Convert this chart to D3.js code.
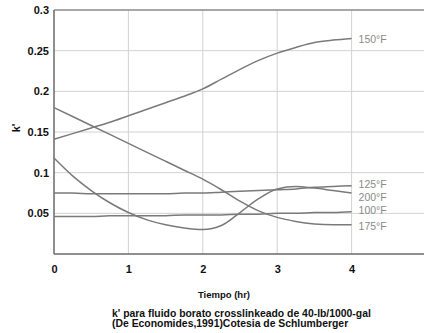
<!DOCTYPE html>
<html>
<head>
<meta charset="utf-8">
<script src="https://cdn.jsdelivr.net/npm/d3@7"></script>
<style>
  body { margin: 0; background: #fff; }
  text { font-family: "Liberation Sans", Arial, sans-serif; }
</style>
</head>
<body>
<div id="chart"></div>
<script>

// tiempo (hr) y k'
let hours = [0, 0.25, 0.5, 0.75, 1, 1.25, 1.5, 1.75, 2, 2.25, 2.5, 2.75, 3, 3.25, 3.5, 3.75, 4]

let k_150 = [0.141, 0.148, 0.155, 0.162, 0.170, 0.178, 0.186, 0.194, 0.203, 0.215, 0.227, 0.238, 0.247, 0.254, 0.260, 0.263, 0.265]
let k_175 = [0.180, 0.169, 0.158, 0.147, 0.136, 0.125, 0.114, 0.103, 0.092, 0.079, 0.065, 0.053, 0.045, 0.040, 0.037, 0.036, 0.036]
let k_200 = [0.118, 0.096, 0.078, 0.063, 0.051, 0.042, 0.036, 0.032, 0.030, 0.035, 0.051, 0.068, 0.080, 0.083, 0.081, 0.078, 0.075]
let k_125 = [0.075, 0.075, 0.074, 0.074, 0.074, 0.074, 0.074, 0.075, 0.075, 0.076, 0.077, 0.078, 0.079, 0.080, 0.082, 0.083, 0.084]
let k_100 = [0.046, 0.046, 0.046, 0.047, 0.047, 0.047, 0.047, 0.048, 0.048, 0.048, 0.049, 0.049, 0.050, 0.050, 0.051, 0.051, 0.052]

let series_names = ['150°F', '125°F', '200°F', '100°F', '175°F']
let series_values = [k_150, k_125, k_200, k_100, k_175]
// donde se ponen las etiquetas (valor k')
let label_k = [0.264, 0.0855, 0.0695, 0.054, 0.0345]

let x_ticks = [0, 1, 2, 3, 4]
let y_ticks = [0.05, 0.1, 0.15, 0.2, 0.25, 0.3]
let caption_lines = ["k' para fluido borato crosslinkeado de 40-lb/1000-gal", "(De Economides,1991)Cotesia de Schlumberger"]

let width = 424, height = 333

let svg = d3.select('#chart').append('svg')
  .attr('width', width)
  .attr('height', height)

let x = d3.scaleLinear().domain([0, 5]).range([54, 426])
let y = d3.scaleLinear().domain([0, 0.3]).range([254, 10])

// rejilla
svg.append('g')
  .selectAll('line')
  .data([1, 2, 3, 4, 5])
  .join('line')
  .attr('x1', d => x(d)).attr('x2', d => x(d))
  .attr('y1', y(0)).attr('y2', y(0.3))
  .style('stroke', '#d2d2d2').style('stroke-width', 1)

svg.append('g')
  .selectAll('line')
  .data(y_ticks.slice(0, -1))
  .join('line')
  .attr('x1', x(0)).attr('x2', width)
  .attr('y1', d => y(d)).attr('y2', d => y(d))
  .style('stroke', '#d2d2d2').style('stroke-width', 1)

// marco
svg.append('line')
  .attr('x1', x(0)).attr('x2', width)
  .attr('y1', y(0.3)).attr('y2', y(0.3))
  .style('stroke', '#8a8a8a').style('stroke-width', 1.3)

svg.append('line')
  .attr('x1', x(0)).attr('x2', x(0))
  .attr('y1', y(0.3)).attr('y2', y(0))
  .style('stroke', '#6a6a6a').style('stroke-width', 1.5)

svg.append('line')
  .attr('x1', x(0)).attr('x2', width)
  .attr('y1', y(0)).attr('y2', y(0))
  .style('stroke', '#6a6a6a').style('stroke-width', 1.5)

// ejes
let x_axis = svg.append('g')
  .attr('transform', 'translate(0,' + (y(0) + 3) + ')')
  .call(d3.axisBottom(x).tickValues(x_ticks).tickSize(0).tickPadding(8).tickFormat(d3.format('d')))
x_axis.select('.domain').remove()
x_axis.selectAll('text')
  .style('font-size', '11px').style('font-weight', 'bold').style('fill', '#111')

let y_axis = svg.append('g')
  .attr('transform', 'translate(' + (x(0) - 2) + ',0)')
  .call(d3.axisLeft(y).tickValues(y_ticks).tickSize(0).tickPadding(3).tickFormat(d => d))
y_axis.select('.domain').remove()
y_axis.selectAll('text')
  .style('font-size', '11px').style('font-weight', 'bold').style('fill', '#111')

// curvas
let line = d3.line()
  .x((d, i) => x(hours[i]))
  .y(d => y(d))
  .curve(d3.curveMonotoneX)

svg.append('g')
  .selectAll('path')
  .data(series_values)
  .join('path')
  .attr('d', d => line(d))
  .style('fill', 'none')
  .style('stroke', '#7a7a7a')
  .style('stroke-width', 1.5)

svg.append('g')
  .selectAll('text')
  .data(series_names)
  .join('text')
  .attr('x', x(4) + 7)
  .attr('y', (d, i) => y(label_k[i]))
  .attr('dy', '0.35em')
  .style('font-size', '10.5px')
  .style('fill', '#8a8a8a')
  .text(d => d)

// titulos
svg.append('text')
  .attr('x', 224).attr('y', 295)
  .attr('dy', '0.35em')
  .attr('text-anchor', 'middle')
  .style('font-size', '9.5px').style('font-weight', 'bold').style('fill', '#111')
  .text('Tiempo (hr)')

svg.append('text')
  .attr('transform', 'translate(16,128) rotate(-90)')
  .attr('dy', '0.35em')
  .attr('text-anchor', 'middle')
  .style('font-size', '11px').style('font-weight', 'bold').style('fill', '#111')
  .text("k'")

svg.append('g')
  .selectAll('text')
  .data(caption_lines)
  .join('text')
  .attr('x', 112)
  .attr('y', (d, i) => 313 + i * 10.5)
  .attr('dy', '0.35em')
  .style('font-size', '10.4px').style('font-weight', 'bold').style('fill', '#111')
  .text(d => d)

</script>
</body>
</html>
